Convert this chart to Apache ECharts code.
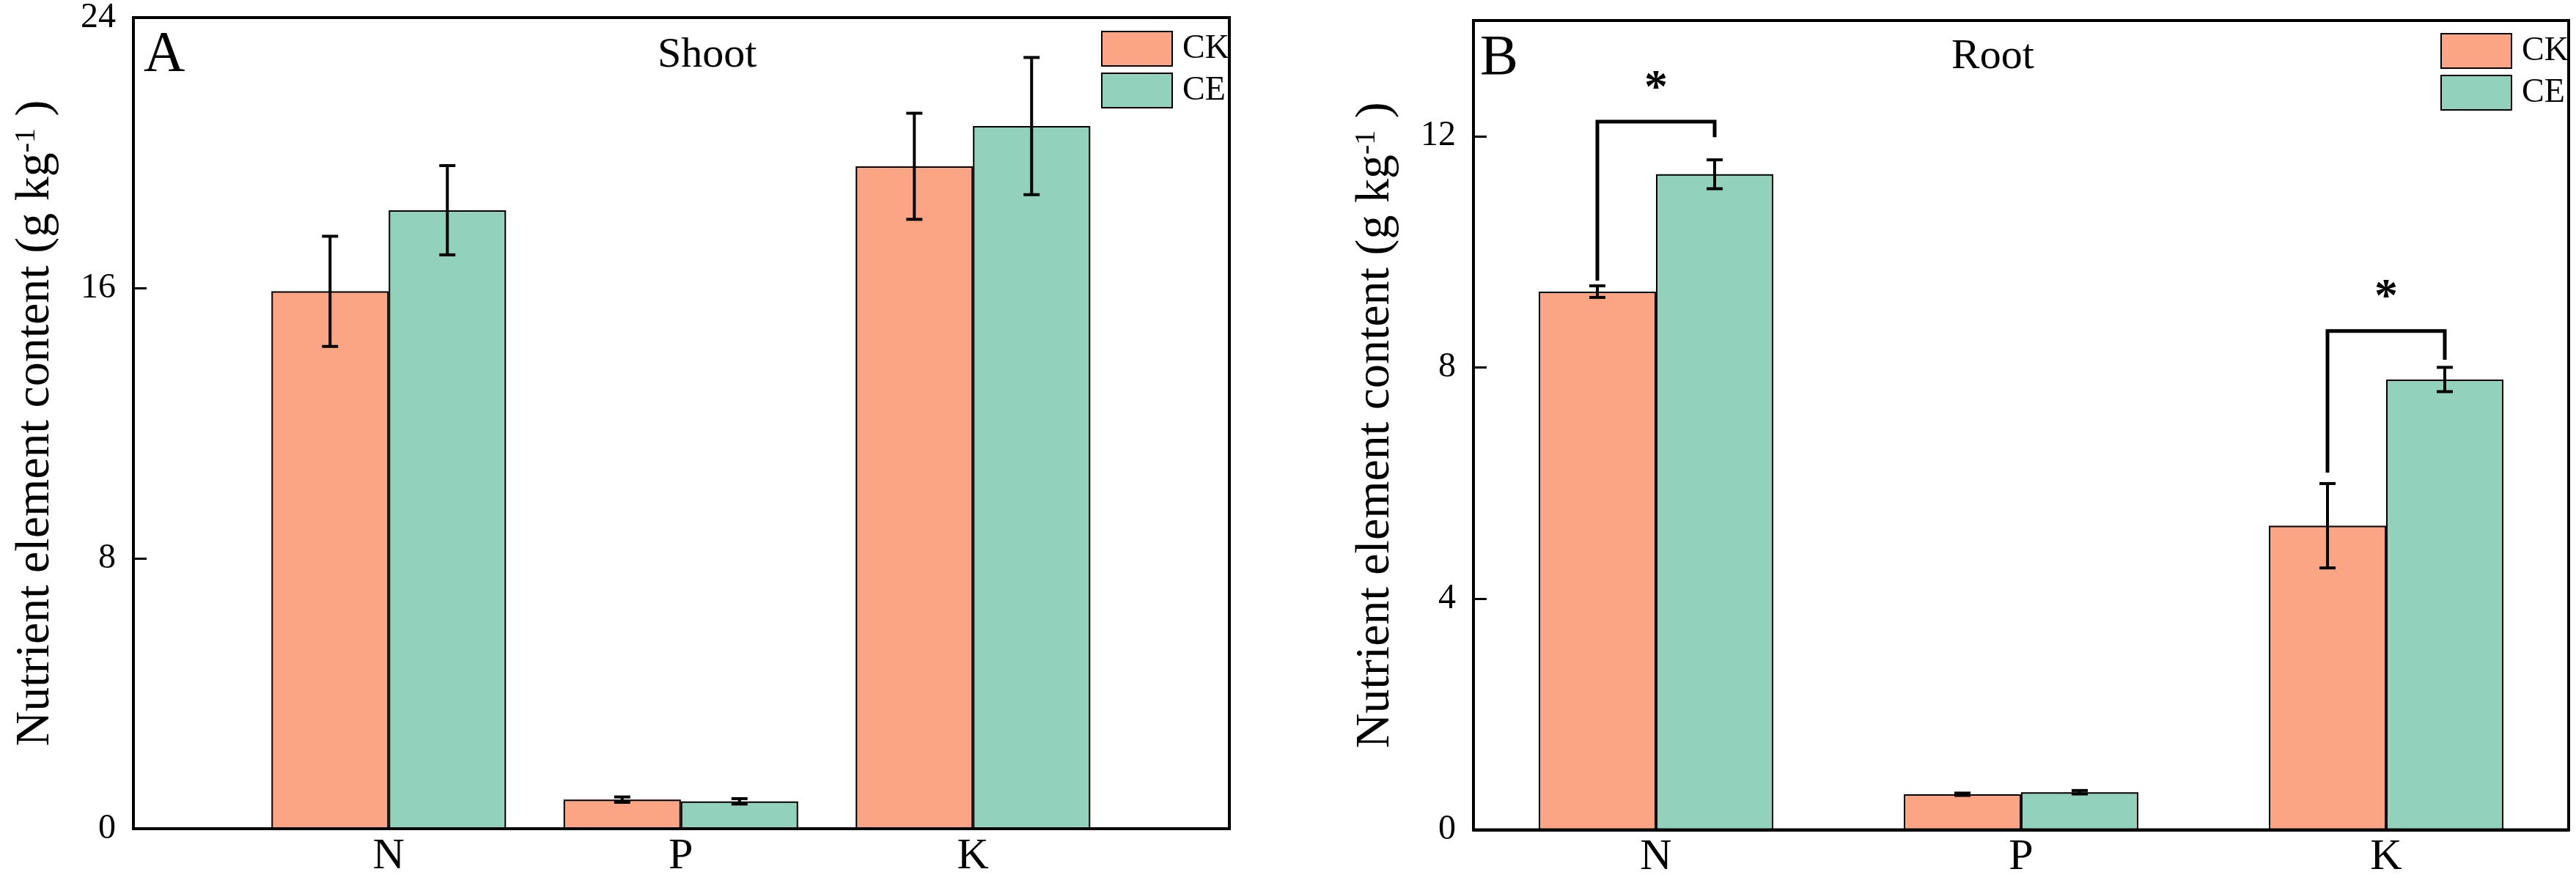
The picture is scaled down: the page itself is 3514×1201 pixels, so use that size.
<!DOCTYPE html>
<html>
<head>
<meta charset="utf-8">
<script src="https://cdn.jsdelivr.net/npm/echarts@6/dist/echarts.min.js"></script>
<style>
  html, body { margin: 0; padding: 0; background: #fff; }
  #chart { width: 3514px; height: 1201px; }
</style>
</head>
<body>
<div id="chart"></div>
<script>
const categories = ['N', 'P', 'K'];

// Shoot (panel A)
const shootCK = [15.9, 0.86, 19.6];
const shootCKErr = [1.63, 0.08, 1.57];
const shootCE = [18.3, 0.81, 20.79];
const shootCEErr = [1.32, 0.08, 2.03];

// Root (panel B)
const rootCK = [9.31, 0.615, 5.26];
const rootCKErr = [0.1, 0.02, 0.73];
const rootCE = [11.34, 0.65, 7.79];
const rootCEErr = [0.25, 0.03, 0.21];

// significance brackets: [category, left foot, right foot, top]
const rootBrackets = [[0, 9.5, 11.98, 12.25], [2, 6.18, 8.13, 8.63]];
const rootStars = [12.8, 9.19];

const shootTicks = { min: 0, max: 24, interval: 8 };
const rootTicks = { min: 0, max: 14, interval: 4 };

const FONT = '"Liberation Serif", "Times New Roman", serif';
const CK_COLOR = '#FCA585';
const CE_COLOR = '#92D2BD';
const BAR_W = 160;

function errorBars(offset) {
  return function (params, api) {
    const x = api.coord([api.value(0), 0])[0] + offset;
    const hi = api.coord([api.value(0), api.value(1) + api.value(2)])[1];
    const lo = api.coord([api.value(0), api.value(1) - api.value(2)])[1];
    const st = { stroke: '#000', lineWidth: 4 };
    return {
      type: 'group',
      children: [
        { type: 'line', shape: { x1: x, y1: hi, x2: x, y2: lo }, style: st },
        { type: 'line', shape: { x1: x - 11, y1: hi, x2: x + 11, y2: hi }, style: st },
        { type: 'line', shape: { x1: x - 11, y1: lo, x2: x + 11, y2: lo }, style: st }
      ]
    };
  };
}

function bracket(params, api) {
  const cx = api.coord([api.value(0), 0])[0];
  const xl = cx - BAR_W / 2, xr = cx + BAR_W / 2;
  const yl = api.coord([api.value(0), api.value(1)])[1];
  const yr = api.coord([api.value(0), api.value(2)])[1];
  const yt = api.coord([api.value(0), api.value(3)])[1];
  const ys = api.coord([api.value(0), api.value(4)])[1];
  return {
    type: 'group',
    children: [
      { type: 'polyline', shape: { points: [[xl, yl], [xl, yt], [xr, yt], [xr, yr]] },
        style: { stroke: '#000', lineWidth: 5, fill: null } },
      { type: 'text', style: { text: '*', x: cx, y: ys, fill: '#000',
        font: 'bold 64px ' + FONT, align: 'center', verticalAlign: 'middle' } }
    ]
  };
}

const yName = 'Nutrient element content (g kg{sup|-1} )';
const yNameStyle = {
  fontFamily: FONT, fontSize: 66, color: '#000', lineHeight: 66,
  rich: { sup: { fontFamily: FONT, fontSize: 40, color: '#000', verticalAlign: 'top', lineHeight: 40 } }
};

function valueAxis(grid, ticks) {
  return {
    type: 'value', gridIndex: grid, min: ticks.min, max: ticks.max, interval: ticks.interval,
    axisLine: { show: true, lineStyle: { color: '#000', width: 4 } },
    axisTick: { show: true, inside: true, length: 18, lineStyle: { color: '#000', width: 3 } },
    axisLabel: { margin: 24, fontFamily: FONT, fontSize: 48, color: '#000', showMaxLabel: ticks.max % ticks.interval === 0 },
    splitLine: { show: false },
    name: yName, nameLocation: 'middle', nameRotate: 90, nameGap: 100, nameTextStyle: yNameStyle
  };
}

const catLabel = { margin: 8, fontFamily: FONT, fontSize: 60, color: '#000' };
const barStyle = (c) => ({ color: c, borderColor: '#000', borderWidth: 2 });

const legendBase = {
  data: ['CK', 'CE'], orient: 'vertical', icon: 'rect', itemWidth: 96, itemHeight: 47, itemGap: 8,
  padding: 0, selectedMode: false,
  itemStyle: { borderColor: '#000', borderWidth: 2 },
  textStyle: { fontFamily: FONT, fontSize: 46, color: '#000', padding: [0, 0, 0, 9] }
};

const option = {
  backgroundColor: '#fff',
  animation: false,
  grid: [
    { left: 182, top: 24, width: 1495, height: 1107, show: true, borderColor: '#000', borderWidth: 4 },
    { left: 331, top: 24, width: 1195.5, height: 1107 },
    { left: 2010, top: 28, width: 1494, height: 1104.5, show: true, borderColor: '#000', borderWidth: 4 }
  ],
  xAxis: [
    { type: 'value', gridIndex: 0, min: 0, max: 1,
      axisLine: { lineStyle: { color: '#000', width: 4 } },
      axisTick: { show: false }, axisLabel: { show: false }, splitLine: { show: false } },
    { type: 'category', gridIndex: 1, data: categories,
      axisLine: { show: false }, axisTick: { show: false }, axisLabel: catLabel },
    { type: 'category', gridIndex: 2, data: categories,
      axisLine: { lineStyle: { color: '#000', width: 4 } }, axisTick: { show: false }, axisLabel: catLabel }
  ],
  yAxis: [
    valueAxis(0, shootTicks),
    { type: 'value', gridIndex: 1, min: shootTicks.min, max: shootTicks.max, show: false, splitLine: { show: false } },
    valueAxis(2, rootTicks)
  ],
  legend: [
    Object.assign({ left: 1502, top: 42 }, legendBase),
    Object.assign({ left: 3329, top: 45 }, legendBase)
  ],
  graphic: [
    { type: 'text', left: 196, top: 37, style: { text: 'A', font: '78px ' + FONT, fill: '#000' } },
    { type: 'text', left: 897, top: 47, style: { text: 'Shoot', font: '58px ' + FONT, fill: '#000' } },
    { type: 'text', left: 2019, top: 42, style: { text: 'B', font: '78px ' + FONT, fill: '#000' } },
    { type: 'text', left: 2662, top: 49, style: { text: 'Root', font: '58px ' + FONT, fill: '#000' } }
  ],
  series: [
    { name: 'CK', type: 'bar', xAxisIndex: 1, yAxisIndex: 1, data: shootCK, barWidth: BAR_W, barGap: '0%', itemStyle: barStyle(CK_COLOR) },
    { name: 'CE', type: 'bar', xAxisIndex: 1, yAxisIndex: 1, data: shootCE, barWidth: BAR_W, barGap: '0%', itemStyle: barStyle(CE_COLOR) },
    { type: 'custom', xAxisIndex: 1, yAxisIndex: 1, z: 5, renderItem: errorBars(-BAR_W / 2),
      data: shootCK.map((v, i) => [i, v, shootCKErr[i]]) },
    { type: 'custom', xAxisIndex: 1, yAxisIndex: 1, z: 5, renderItem: errorBars(BAR_W / 2),
      data: shootCE.map((v, i) => [i, v, shootCEErr[i]]) },

    { name: 'CK', type: 'bar', xAxisIndex: 2, yAxisIndex: 2, data: rootCK, barWidth: BAR_W, barGap: '0%', itemStyle: barStyle(CK_COLOR) },
    { name: 'CE', type: 'bar', xAxisIndex: 2, yAxisIndex: 2, data: rootCE, barWidth: BAR_W, barGap: '0%', itemStyle: barStyle(CE_COLOR) },
    { type: 'custom', xAxisIndex: 2, yAxisIndex: 2, z: 5, renderItem: errorBars(-BAR_W / 2),
      data: rootCK.map((v, i) => [i, v, rootCKErr[i]]) },
    { type: 'custom', xAxisIndex: 2, yAxisIndex: 2, z: 5, renderItem: errorBars(BAR_W / 2),
      data: rootCE.map((v, i) => [i, v, rootCEErr[i]]) },
    { type: 'custom', xAxisIndex: 2, yAxisIndex: 2, z: 6, renderItem: bracket,
      data: rootBrackets.map((b, i) => b.concat([rootStars[i]])) }
  ]
};

const chart = echarts.init(document.getElementById('chart'), null, { renderer: 'canvas' });
chart.setOption(option);
</script>
</body>
</html>
